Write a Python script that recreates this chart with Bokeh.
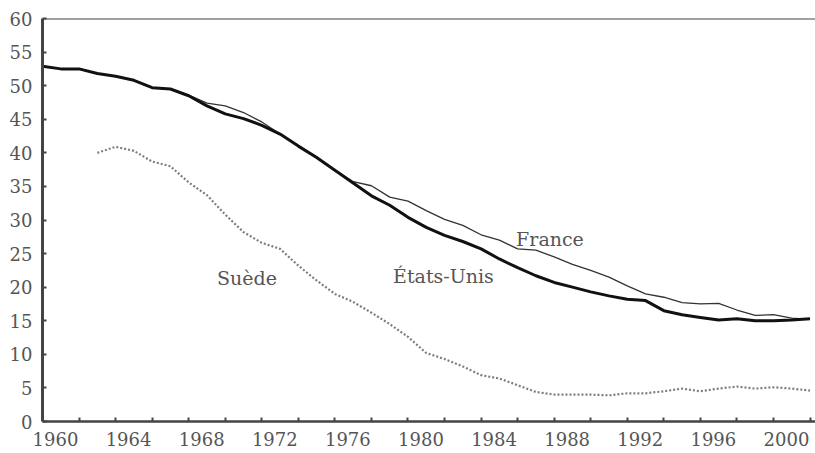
from bokeh.plotting import figure
from bokeh.models import Range1d, FixedTicker, Span, Label, LinearAxis, ColumnDataSource
from bokeh.embed import file_html
from bokeh.resources import INLINE

nan = float("nan")

years = list(range(1960, 2003))
etats_unis = [52.9, 52.5, 52.5, 51.8, 51.4, 50.8, 49.7, 49.5, 48.5, 47.0,
              45.8, 45.1, 44.1, 42.8, 41.0, 39.3, 37.4, 35.5, 33.6, 32.2,
              30.4, 28.9, 27.7, 26.8, 25.7, 24.2, 22.9, 21.7, 20.7, 20.0,
              19.3, 18.7, 18.2, 18.0, 16.5, 15.9, 15.5, 15.1, 15.3, 15.0,
              15.0, 15.1, 15.3]
france = [52.9, 52.5, 52.5, 51.8, 51.4, 50.8, 49.7, 49.5, 48.6, 47.4,
          47.0, 46.0, 44.6, 42.8, 41.1, 39.4, 37.4, 35.7, 35.1, 33.4,
          32.8, 31.4, 30.1, 29.2, 27.8, 27.0, 25.7, 25.5, 24.5, 23.4,
          22.5, 21.5, 20.2, 19.0, 18.5, 17.7, 17.5, 17.6, 16.6, 15.8,
          15.9, 15.4, 15.2]
suede = [nan, nan, nan, 40.0, 40.9, 40.3, 38.7, 38.0, 35.6, 33.7,
         30.8, 28.2, 26.6, 25.7, 23.2, 21.0, 19.0, 17.8, 16.2, 14.5,
         12.6, 10.2, 9.3, 8.2, 6.9, 6.4, 5.4, 4.4, 4.0, 4.0,
         4.0, 3.9, 4.2, 4.2, 4.5, 4.9, 4.5, 4.9, 5.2, 4.9,
         5.1, 4.9, 4.6]

y_ticks = list(range(0, 61, 5))
x_ticks = list(range(1962, 2003, 2))
x_label_years = list(range(1960, 2001, 4))

FONT = "DejaVu Serif"
TXT = "#555555"
AX = "#444444"

X0, X1 = 1960, 2002.3
LBL_SHIFT = 0.711  # year labels sit slightly right of their tick

p = figure(width=815, height=453, output_backend="svg", toolbar_location=None,
           x_range=Range1d(X0, X1), y_range=Range1d(0, 60),
           min_border_left=42, min_border_top=18, min_border_bottom=32, min_border_right=0)
p.background_fill_color = "white"
p.border_fill_color = "white"
p.outline_line_color = None
p.xgrid.visible = False
p.ygrid.visible = False

# y axis
p.yaxis.ticker = FixedTicker(ticks=y_ticks)
p.yaxis.axis_line_color = AX
p.yaxis.axis_line_width = 3
p.yaxis.major_tick_in = 4
p.yaxis.major_tick_out = 0
p.yaxis.major_tick_line_color = AX
p.yaxis.major_tick_line_width = 2
p.yaxis.minor_tick_line_color = None
p.yaxis.major_label_text_font = FONT
p.yaxis.major_label_text_font_size = "18px"
p.yaxis.major_label_text_color = TXT
p.yaxis.major_label_standoff = 10

# x axis: line + tick marks (no labels drawn)
p.xaxis.ticker = FixedTicker(ticks=x_ticks)
p.xaxis.axis_line_color = AX
p.xaxis.axis_line_width = 2.5
p.xaxis.major_tick_in = 4
p.xaxis.major_tick_out = 0
p.xaxis.major_tick_line_color = AX
p.xaxis.major_tick_line_width = 2
p.xaxis.minor_tick_line_color = None
p.xaxis.major_label_text_color = None
p.xaxis.major_label_text_font_size = "1px"
p.xaxis.major_label_standoff = 0

# year labels on a second axis
p.extra_x_ranges = {"lbl": Range1d(X0 - LBL_SHIFT, X1 - LBL_SHIFT)}
lab_axis = LinearAxis(x_range_name="lbl", ticker=FixedTicker(ticks=x_label_years))
lab_axis.axis_line_color = None
lab_axis.major_tick_line_color = None
lab_axis.minor_tick_line_color = None
lab_axis.major_tick_in = 0
lab_axis.major_tick_out = 0
lab_axis.major_label_text_font = FONT
lab_axis.major_label_text_font_size = "18px"
lab_axis.major_label_text_color = TXT
lab_axis.major_label_standoff = 10
p.add_layout(lab_axis, "below")

# top frame line
p.add_layout(Span(location=60, dimension="width", line_color=AX, line_width=2))

src = ColumnDataSource(dict(x=years, us=etats_unis, fr=france, se=suede))
p.line("x", "se", source=src, line_color="#7d7d7d", line_width=2.2, line_dash="2 2")
p.line("x", "fr", source=src, line_color="#333333", line_width=1.3)
p.line("x", "us", source=src, line_color="#111111", line_width=3)

for txt, lx, ly in [("France", 1987.77, 27.24), ("États-Unis", 1981.94, 21.59), ("Suède", 1971.19, 21.33)]:
    p.add_layout(Label(x=lx, y=ly, text=txt, text_align="center", text_baseline="alphabetic",
                       text_font=FONT, text_font_size="19px", text_color=TXT))

open("out.html", "w").write(file_html(p, INLINE))
